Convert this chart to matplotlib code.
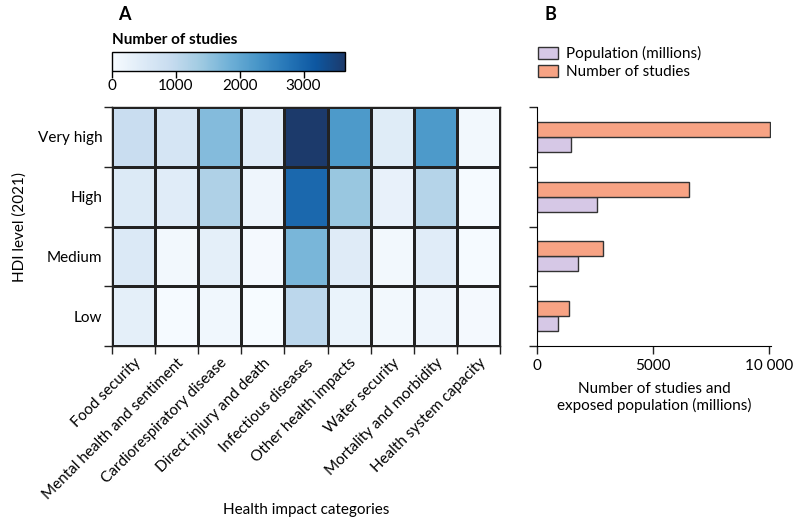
import numpy as np
import matplotlib
matplotlib.use("Agg")
import matplotlib.pyplot as plt
from matplotlib.ticker import FixedLocator
from matplotlib.colors import LinearSegmentedColormap

plt.rcParams['font.family'] = ['Lato', 'DejaVu Sans']

categories = ["Food security", "Mental health and sentiment", "Cardiorespiratory disease",
              "Direct injury and death", "Infectious diseases", "Other health impacts",
              "Water security", "Mortality and morbidity", "Health system capacity"]
hdi_levels = ["Very high", "High", "Medium", "Low"]

# number of studies per HDI level (rows) and category (columns)
very_high = [870, 650, 1640, 440, 3640, 2220, 450, 2220, 110]
high = [510, 430, 1200, 180, 2950, 1450, 290, 1130, 40]
medium = [540, 110, 360, 70, 1750, 470, 110, 440, 30]
low = [370, 30, 140, 20, 1050, 250, 100, 180, 70]

studies_total = [10050, 6580, 2860, 1390]
population = [1470, 2600, 1780, 910]

FS = 11
fig = plt.figure(figsize=(8, 5.29), dpi=100)
W, H = 800, 529

def box(x0, y0, x1, y1):
    return [x0 / W, 1 - y1 / H, (x1 - x0) / W, (y1 - y0) / H]

# Blues, but ending on a softer navy like the original
blues = plt.get_cmap('Blues')
cmap = LinearSegmentedColormap.from_list(
    'blues_navy', [blues(v) for v in np.linspace(0, 0.85, 8)] + ['#1c3a6b'])

# ---- panel A: heatmap
ax = fig.add_axes(box(112, 107, 500, 346))
grid = np.array([very_high, high, medium, low])
mesh = ax.pcolormesh(grid, cmap=cmap, vmin=0, vmax=3650,
                     edgecolors='#222222', linewidth=0.8)
ax.set_xlim(0, len(categories))
ax.set_ylim(len(hdi_levels), 0)
ax.set_xticks(np.arange(len(categories)) + 0.5)
ax.set_xticklabels(categories, rotation=45, ha='right', rotation_mode='anchor', fontsize=FS)
ax.set_yticks(np.arange(len(hdi_levels)) + 0.5)
ax.set_yticklabels(hdi_levels, fontsize=FS)
ax.tick_params(which='major', length=0, pad=7)
ax.xaxis.set_minor_locator(FixedLocator(np.arange(len(categories) + 1)))
ax.yaxis.set_minor_locator(FixedLocator(np.arange(len(hdi_levels) + 1)))
ax.tick_params(which='minor', length=6, width=1, color='#222222')
ax.set_xlabel("Health impact categories", fontsize=FS)
ax.xaxis.set_label_coords(0.5, -0.655)
ax.set_ylabel("HDI level (2021)", fontsize=FS, labelpad=8)
for s in ax.spines.values():
    s.set_linewidth(1)
    s.set_color('#222222')

cax = fig.add_axes(box(112, 52, 345, 71))
cb = fig.colorbar(mesh, cax=cax, orientation='horizontal')
cb.set_ticks([0, 1000, 2000, 3000])
cb.ax.tick_params(labelsize=FS, length=5, width=1, pad=1)
cb.outline.set_linewidth(1)
cax.set_title("Number of studies", fontsize=FS, fontweight='bold', loc='left', pad=6)

fig.text(118 / W, 1 - 15 / H, "A", fontsize=13, fontweight='bold', va='center')
fig.text(545 / W, 1 - 15 / H, "B", fontsize=13, fontweight='bold', va='center')

# ---- panel B: bars
bx = fig.add_axes(box(537, 107, 771, 346))
y = np.arange(len(hdi_levels)) + 0.5
h = 0.25
bx.barh(y + h / 2, population, height=h, color='#d6c8e6', edgecolor='#333333',
        linewidth=1, label="Population (millions)")
bx.barh(y - h / 2, studies_total, height=h, color='#f7a384', edgecolor='#333333',
        linewidth=1, label="Number of studies")
bx.set_ylim(len(hdi_levels), 0)
bx.set_xlim(0, 10100)
bx.set_yticks(np.arange(len(hdi_levels) + 1))
bx.set_yticklabels([])
bx.set_xticks([0, 5000, 10000])
bx.set_xticklabels(["0", "5000", "10 000"])
bx.tick_params(labelsize=FS, length=6, width=1, color='#222222')
bx.spines['top'].set_visible(False)
bx.spines['right'].set_visible(False)
bx.set_xlabel("Number of studies and\nexposed population (millions)", fontsize=FS, labelpad=6)
bx.legend(loc='lower left', bbox_to_anchor=(-0.02, 1.09), frameon=False, fontsize=FS,
          handlelength=1.3, handleheight=0.8, borderaxespad=0, labelspacing=0.25,
          handletextpad=0.5)

fig.savefig("out.png", dpi=100)
